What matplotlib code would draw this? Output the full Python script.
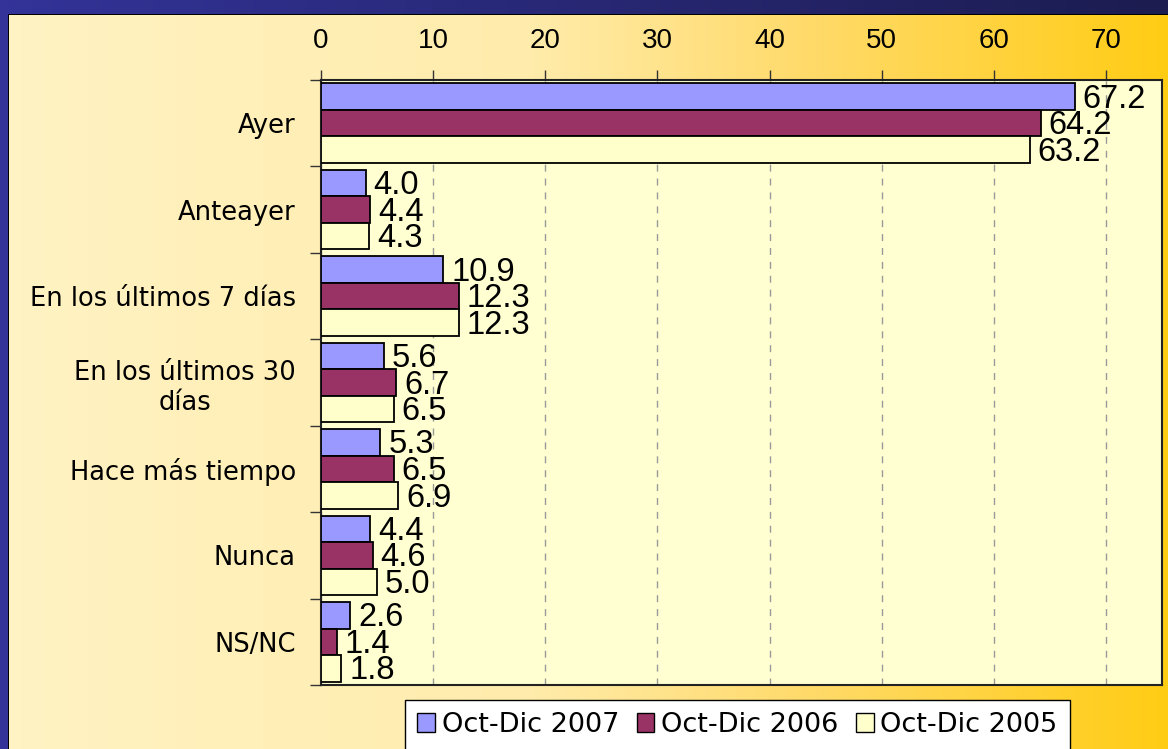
import numpy as np
import matplotlib.pyplot as plt
from matplotlib.patches import Patch

plt.rcParams['font.family'] = ['Liberation Sans', 'DejaVu Sans']

categories = ['Ayer', 'Anteayer', 'En los últimos 7 días', 'En los últimos 30\ndías',
              'Hace más tiempo', 'Nunca', 'NS/NC']
series_names = ['Oct-Dic 2007', 'Oct-Dic 2006', 'Oct-Dic 2005']
v2007 = [67.2, 4.0, 10.9, 5.6, 5.3, 4.4, 2.6]
v2006 = [64.2, 4.4, 12.3, 6.7, 6.5, 4.6, 1.4]
v2005 = [63.2, 4.3, 12.3, 6.5, 6.9, 5.0, 1.8]
colors = ['#9999FF', '#993366', '#FFFFCC']
xticks = [0, 10, 20, 30, 40, 50, 60, 70]

W, H = 1168, 749
fig = plt.figure(figsize=(W / 100, H / 100), dpi=100)

# background: blue frame + cream-to-gold panel
bg = np.zeros((H, W, 3))
t = np.linspace(0, 1, W)
stops = [0, 0.45, 0.7, 1.0]
panel = np.stack([np.interp(t, stops, c) for c in
                  ([255, 255, 255, 255], [243, 236, 218, 204], [196, 172, 104, 20])], axis=1) / 255
bg[:, :] = panel
blue_top = np.stack([np.interp(t, [0, 1], c) for c in ([51, 28], [51, 28], [153, 80])], axis=1) / 255
bg[:14, :] = blue_top
bg[:, :8] = np.array([51, 51, 153]) / 255
bg[14, 8:] = 0
bg[14:, 8] = 0
axbg = fig.add_axes([0, 0, 1, 1])
axbg.imshow(bg, aspect='auto', interpolation='nearest')
axbg.axis('off')

ax = fig.add_axes([321 / W, 1 - 685 / H, (1162 - 321) / W, (685 - 80) / H])
ax.set_facecolor('#FFFFD2')

y = np.arange(len(categories))
h = 0.307
for k, (vals, c) in enumerate(zip([v2007, v2006, v2005], colors)):
    pos = y + (k - 1) * h
    ax.barh(pos, vals, height=h, color=c, edgecolor='black', linewidth=1.3, zorder=3)
    for p, v in zip(pos, vals):
        ax.text(v + 0.7, p + 0.03, f'{v:.1f}', va='center', ha='left', fontsize=23.5, zorder=4)

ax.set_xlim(0, 75)
ax.set_ylim(len(categories) - 0.5, -0.5)
ax.xaxis.tick_top()
ax.set_xticks(xticks)
ax.tick_params(axis='x', labelsize=20, length=7, width=1, pad=12, color='#333333')
ax.grid(axis='x', linestyle=(0, (5, 5)), color='#999999', linewidth=1, zorder=1)
ax.set_yticks(y)
ax.set_yticklabels(categories, fontsize=18.5, ma='center', family='DejaVu Sans')
ax.tick_params(axis='y', which='major', length=0, pad=18)
ax.set_yticks(np.arange(-0.5, len(categories)), minor=True)
ax.tick_params(axis='y', which='minor', length=8, width=1, color='#333333')
for s in ax.spines.values():
    s.set_linewidth(1.5)
    s.set_color('#222222')

handles = [Patch(facecolor=c, edgecolor='black', linewidth=1) for c in colors]
fig.legend(handles, series_names, loc='upper left', bbox_to_anchor=(405 / W, 1 - 700 / H),
           ncol=3, prop={'family': 'DejaVu Sans', 'size': 19.5}, frameon=True, fancybox=False,
           edgecolor='black', framealpha=1, handlelength=0.65, handleheight=0.7,
           handletextpad=0.25, columnspacing=0.65, borderpad=0.45, borderaxespad=0)

fig.savefig('out.png', dpi=100)
